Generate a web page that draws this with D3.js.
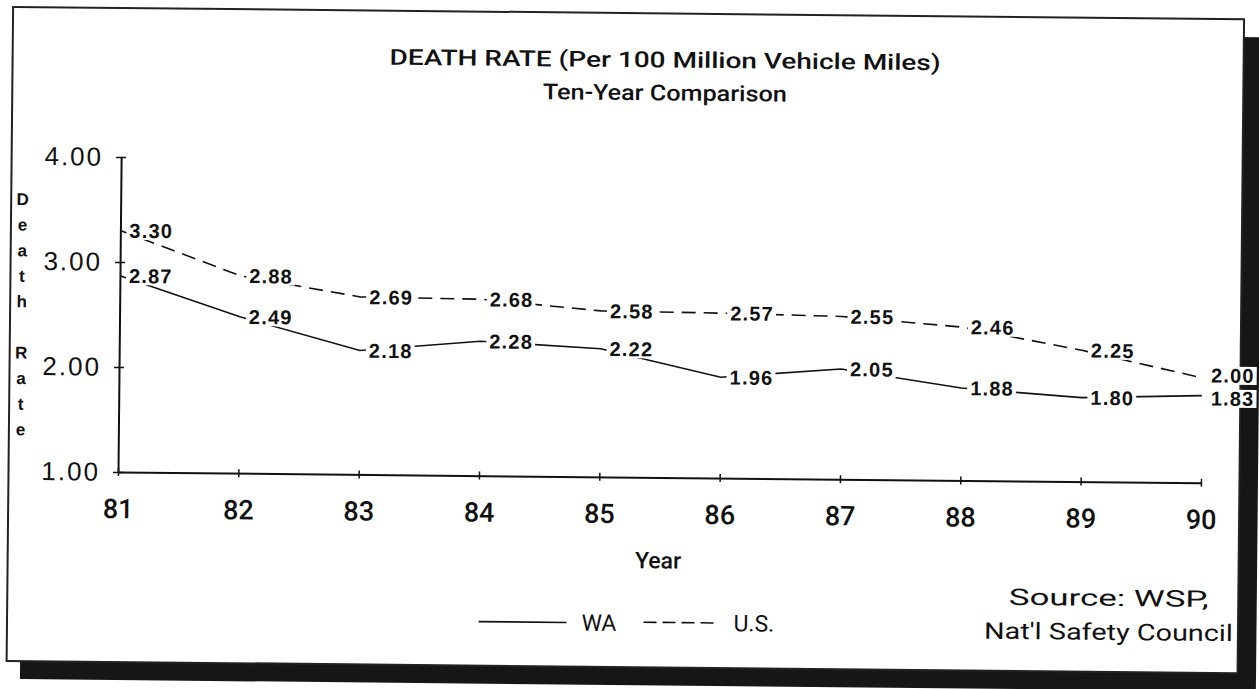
<!DOCTYPE html>
<meta charset="utf-8">
<script src="https://d3js.org/d3.v7.min.js"></script>
<style>
  body { margin: 0; background: #fff; }
  text { fill: #111; }
</style>
<body>
<div id="chart"></div>
<script>

// data
var years  = ["81", "82", "83", "84", "85", "86", "87", "88", "89", "90"]
var waRate = [2.87, 2.49, 2.18, 2.28, 2.22, 1.96, 2.05, 1.88, 1.80, 1.83]
var usRate = [3.30, 2.88, 2.69, 2.68, 2.58, 2.57, 2.55, 2.46, 2.25, 2.00]
var yTicks = [1, 2, 3, 4]
var yTitle = "Death Rate"
var titleLines = ["DEATH RATE (Per 100 Million Vehicle Miles)", "Ten-Year Comparison"]
var sourceLines = ["Source: WSP,", "Nat'l Safety Council"]

var W = 1259, H = 689
var font = "'Liberation Sans', Arial, Helvetica, sans-serif"
var fontMed = "Roboto, 'Liberation Sans', Arial, sans-serif"

var svg = d3.select("#chart").append("svg")
  .attr("width", W).attr("height", H)

// the page was scanned a little crooked
var page = svg.append("g").attr("transform", "rotate(0.57,118,472)")

// drop shadow + frame
page.append("rect")
  .attr("x", 22).attr("y", 26).attr("width", 1236).attr("height", 654)
  .attr("fill", "#161616")
page.append("rect")
  .attr("x", 8.5).attr("y", 8).attr("width", 1231).attr("height", 654)
  .attr("fill", "#fff").attr("stroke", "#222").attr("stroke-width", 2)

var x = d3.scalePoint().domain(years).range([118, 1201])
var y = d3.scaleLinear().domain([1, 4]).range([472, 157])

// titles
page.selectAll(".title")
  .data(titleLines)
  .enter().append("text")
    .attr("class", "title")
    .attr("x", 661)
    .attr("y", function (d, i) { return i === 0 ? 62 : 95 })
    .attr("text-anchor", "middle")
    .attr("font-family", fontMed)
    .attr("font-weight", 500)
    .attr("font-size", 22)
    .attr("textLength", function (d, i) { return i === 0 ? 551 : 244 })
    .attr("lengthAdjust", "spacingAndGlyphs")
    .text(function (d) { return d })

// y axis
var yAxis = page.append("g")
  .attr("transform", "translate(" + x(years[0]) + ",0)")
  .call(d3.axisLeft(y).tickValues(yTicks).tickFormat(d3.format(".2f"))
    .tickSizeInner(5).tickSizeOuter(0).tickPadding(13))
yAxis.select(".domain").attr("stroke", "#111").attr("stroke-width", 2)
yAxis.selectAll(".tick line").attr("x1", 5).attr("stroke", "#111").attr("stroke-width", 1.5)
yAxis.selectAll(".tick text")
  .attr("font-family", font).attr("font-size", 26)
  .attr("letter-spacing", 2).attr("fill", "#111")

// x axis
var xAxis = page.append("g")
  .attr("transform", "translate(0," + y(1) + ")")
  .call(d3.axisBottom(x).tickSizeInner(4).tickSizeOuter(0).tickPadding(23))
xAxis.select(".domain").attr("stroke", "#111").attr("stroke-width", 2)
xAxis.selectAll(".tick line").attr("y1", -4).attr("stroke", "#111").attr("stroke-width", 1.5)
xAxis.selectAll(".tick text")
  .attr("font-family", fontMed).attr("font-size", 27).attr("font-weight", 500)
  .attr("fill", "#111")

// vertical y title, one letter per row
page.append("g").selectAll("text")
  .data(yTitle.split(""))
  .enter().append("text")
    .attr("x", 20)
    .attr("y", function (d, i) { return 200 + i * 25.6 })
    .attr("dy", "0.35em")
    .attr("text-anchor", "middle")
    .attr("font-family", font)
    .attr("font-weight", "bold")
    .attr("font-size", 17)
    .text(function (d) { return d })

page.append("text")
  .attr("x", 659).attr("y", 555).attr("dy", "0.35em")
  .attr("text-anchor", "middle")
  .attr("font-family", fontMed).attr("font-weight", 500).attr("font-size", 23)
  .text("Year")

var series = [
  { name: "WA", values: waRate, dash: null },
  { name: "U.S.", values: usRate, dash: "14,8" }
]

var line = d3.line()
  .x(function (d, i) { return x(years[i]) })
  .y(function (d) { return y(d) })

page.append("g").selectAll("path")
  .data(series)
  .enter().append("path")
    .attr("d", function (s) { return line(s.values) })
    .attr("fill", "none")
    .attr("stroke", "#111")
    .attr("stroke-width", 1.6)
    .attr("stroke-dasharray", function (s) { return s.dash })

// label y positions; push apart labels of the same year that would collide
var labelY = series.map(function (s) { return s.values.map(function (v) { return y(v) }) })
years.forEach(function (yr, i) {
  var a = labelY[0][i], b = labelY[1][i], gap = 23
  if (Math.abs(a - b) < gap) {
    var mid = (a + b) / 2, sgn = a > b ? 1 : -1
    labelY[0][i] = mid + sgn * gap / 2
    labelY[1][i] = mid - sgn * gap / 2
  }
})

// value labels sit just right of each point on a white patch that cuts the line
var labelG = page.append("g")
series.forEach(function (s, si) {
  s.values.forEach(function (v, i) {
    var g = labelG.append("g")
    var t = g.append("text")
      .attr("x", x(years[i]) + 9)
      .attr("y", labelY[si][i])
      .attr("dy", "0.36em")
      .attr("font-family", font)
      .attr("font-weight", "bold")
      .attr("font-size", 20)
      .attr("letter-spacing", 1.2)
      .text(d3.format(".2f")(v))
    var b = t.node().getBBox()
    g.insert("rect", "text")
      .attr("x", b.x - 3).attr("y", b.y + 2)
      .attr("width", b.width + 5).attr("height", b.height - 4)
      .attr("fill", "#fff")
  })
})

// legend
var legend = page.append("g")
legend.append("line")
  .attr("x1", 480).attr("x2", 568).attr("y1", 618).attr("y2", 618)
  .attr("stroke", "#111").attr("stroke-width", 1.6)
legend.append("line")
  .attr("x1", 645).attr("x2", 716).attr("y1", 617).attr("y2", 617)
  .attr("stroke", "#111").attr("stroke-width", 1.6)
  .attr("stroke-dasharray", "13,6")
legend.selectAll("text")
  .data(series)
  .enter().append("text")
    .attr("x", function (s, i) { return i === 0 ? 583 : 735 })
    .attr("y", function (s, i) { return i === 0 ? 618 : 617 })
    .attr("dy", "0.35em")
    .attr("font-family", fontMed).attr("font-size", 23)
    .text(function (s) { return s.name })

page.selectAll(".source")
  .data(sourceLines)
  .enter().append("text")
    .attr("class", "source")
    .attr("x", 1110)
    .attr("y", function (d, i) { return 588 + i * 34 })
    .attr("dy", "0.35em")
    .attr("text-anchor", "middle")
    .attr("font-family", fontMed).attr("font-size", 23)
    .attr("textLength", function (d, i) { return i === 0 ? 200 : 249 })
    .attr("lengthAdjust", "spacingAndGlyphs")
    .text(function (d) { return d })

</script>
</body>
